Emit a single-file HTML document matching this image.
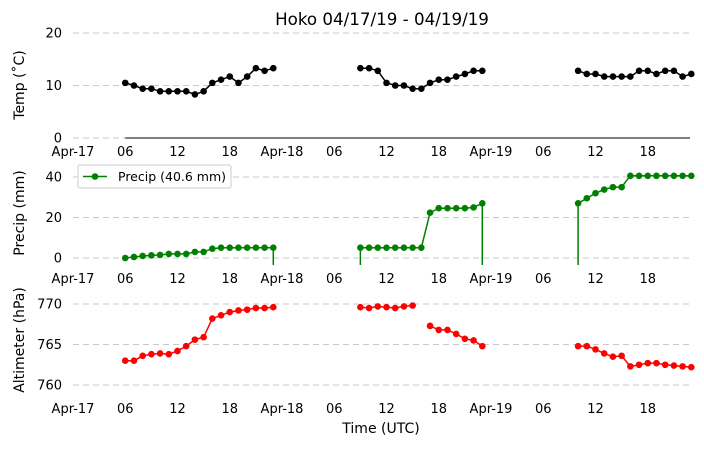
<!DOCTYPE html>
<html><head><meta charset="utf-8"><style>
body{margin:0;background:#fff;width:704px;height:445px;overflow:hidden}
svg text{font-family:"DejaVu Sans","Liberation Sans",sans-serif}
</style></head><body>
<svg id="chart" width="704" height="445" xmlns="http://www.w3.org/2000/svg">
<text x="382" y="25" font-size="16.7" text-anchor="middle">Hoko 04/17/19 - 04/19/19</text>
<text x="381" y="433" font-size="14" text-anchor="middle">Time (UTC)</text>
</svg>
<script>
// hours since Apr-17 00:00 UTC
const tempHours1=[6,7,8,9,10,11,12,13,14,15,16,17,18,19,20,21,22,23];
const tempVals1=[10.5,10,9.4,9.4,8.9,8.9,8.9,8.9,8.3,8.9,10.5,11.1,11.7,10.5,11.7,13.3,12.8,13.3];
const tempHours2=[33,34,35,36,37,38,39,40,41,42,43,44,45,46,47];
const tempVals2=[13.3,13.3,12.8,10.5,10,10,9.4,9.4,10.5,11.1,11.1,11.7,12.2,12.8,12.8];
const tempHours3=[58,59,60,61,62,63,64,65,66,67,68,69,70,71];
const tempVals3=[12.8,12.2,12.2,11.7,11.7,11.7,11.7,12.8,12.8,12.2,12.8,12.8,11.7,12.2];
const precipHours1=[6,7,8,9,10,11,12,13,14,15,16,17,18,19,20,21,22,23];
const precipVals1=[0,0.5,1,1.3,1.5,2,2,2,3,3,4.6,5.1,5.1,5.1,5.1,5.1,5.1,5.1];
const precipHours2=[33,34,35,36,37,38,39,40,41,42,43,44,45,46,47];
const precipVals2=[5.1,5.1,5.1,5.1,5.1,5.1,5.1,5.1,22.4,24.6,24.6,24.6,24.6,25,27];
const precipHours3=[58,59,60,61,62,63,64,65,66,67,68,69,70,71];
const precipVals3=[27,29.5,32,33.8,35,35,40.6,40.6,40.6,40.6,40.6,40.6,40.6,40.6];
const altHours1=[6,7,8,9,10,11,12,13,14,15,16,17,18,19,20,21,22,23];
const altVals1=[763,763,763.6,763.8,763.9,763.8,764.2,764.8,765.6,765.9,768.2,768.6,769,769.2,769.3,769.5,769.5,769.6];
const altHours2a=[33,34,35,36,37,38,39];
const altVals2a=[769.6,769.5,769.7,769.6,769.5,769.7,769.8];
const altHours2b=[41,42,43,44,45,46,47];
const altVals2b=[767.3,766.8,766.8,766.3,765.7,765.5,764.8];
const altHours3=[58,59,60,61,62,63,64,65,66,67,68,69,70,71];
const altVals3=[764.8,764.8,764.4,763.9,763.5,763.6,762.3,762.5,762.7,762.7,762.5,762.4,762.3,762.2];
const xTickHours=[0,6,12,18,24,30,36,42,48,54,60,66];
const xTickLabels=["Apr-17","06","12","18","Apr-18","06","12","18","Apr-19","06","12","18"];
const tempTicks=[0,10,20], precipTicks=[0,20,40], altTicks=[760,765,770];

const NS="http://www.w3.org/2000/svg";
const svg=document.getElementById('chart');
const X0=73,X1=690,H0=0,H1=70.85;
const x=h=>X0+(h-H0)/(H1-H0)*(X1-X0);
function mk(tag,attrs){const e=document.createElementNS(NS,tag);for(const k in attrs)e.setAttribute(k,attrs[k]);svg.appendChild(e);return e;}
function panel(name,ymin,ymax,top,bot,ticks,title,titleY){
  const y=v=>bot-(v-ymin)/(ymax-ymin)*(bot-top);
  ticks.forEach(t=>{
    const g=mk('line',{x1:X0,x2:X1,y1:y(t),y2:y(t),stroke:'#c8c8c8','stroke-dasharray':'6,4','stroke-width':1});
    
    
    const tx=mk('text',{x:62,y:y(t)+4.5,'font-size':13,'text-anchor':'end'});tx.textContent=t;
    
    
  });
  const yt=mk('text',{x:0,y:0,'font-size':14,'text-anchor':'middle',transform:`translate(24,${titleY}) rotate(-90)`});yt.textContent=title;
  
  
  xTickHours.forEach((h,i)=>{
    const tx=mk('text',{x:x(h),y:bot+18,'font-size':13,'text-anchor':'middle'});tx.textContent=xTickLabels[i];
    
    
  });
  return y;
}
function series(name,hours,vals,y,color){
  const pts=hours.map((h,i)=>x(h).toFixed(1)+','+y(vals[i]).toFixed(1)).join(' ');
  const pl=mk('polyline',{points:pts,fill:'none',stroke:color,'stroke-width':1.5});
  
  
  hours.forEach((h,i)=>{
    const c=mk('circle',{cx:x(h),cy:y(vals[i]),r:3.3,fill:color});
    
    
  });
}
function drop(name,h,v,y,bot,color){
  const l=mk('line',{x1:x(h),x2:x(h),y1:y(v),y2:bot,stroke:color,'stroke-width':1.5});
  
  
}
// temp panel
const yT=panel('temp',0,20,33,138,tempTicks,'Temp (˚C)',85);
const ax=mk('line',{x1:x(6),x2:X1,y1:138,y2:138,stroke:'#000','stroke-width':1});


series('temp-seg1',tempHours1,tempVals1,yT,'#000');
series('temp-seg2',tempHours2,tempVals2,yT,'#000');
series('temp-seg3',tempHours3,tempVals3,yT,'#000');
// precip panel
const PB=265;
const yP=panel('precip',-3.46,44.44,168,PB,precipTicks,'Precip (mm)',213);
series('precip-seg1',precipHours1,precipVals1,yP,'#008000');
series('precip-seg2',precipHours2,precipVals2,yP,'#008000');
series('precip-seg3',precipHours3,precipVals3,yP,'#008000');
drop('precip',precipHours1[precipHours1.length-1],precipVals1[precipVals1.length-1],yP,PB,'#008000');
drop('precip',precipHours2[0],precipVals2[0],yP,PB,'#008000');
drop('precip',precipHours2[precipHours2.length-1],precipVals2[precipVals2.length-1],yP,PB,'#008000');
drop('precip',precipHours3[0],precipVals3[0],yP,PB,'#008000');
// altimeter panel
const yA=panel('altimeter',758.77,771.23,294,395,altTicks,'Altimeter (hPa)',340);
series('alt-seg1',altHours1,altVals1,yA,'#ff0000');
series('alt-seg2a',altHours2a,altVals2a,yA,'#ff0000');
series('alt-seg2b',altHours2b,altVals2b,yA,'#ff0000');
series('alt-seg3',altHours3,altVals3,yA,'#ff0000');
// legend
const lg=mk('rect',{x:78,y:165,width:153,height:23,fill:'#fff',stroke:'#ccc','stroke-width':1,rx:2});


const ll=mk('line',{x1:83,x2:107,y1:176.5,y2:176.5,stroke:'#008000','stroke-width':1.5});


const lc=mk('circle',{cx:95,cy:176.5,r:3.3,fill:'#008000'});


const lt=mk('text',{x:118,y:181,'font-size':12.5});lt.textContent='Precip (40.6 mm)';


</script>
</body></html>
